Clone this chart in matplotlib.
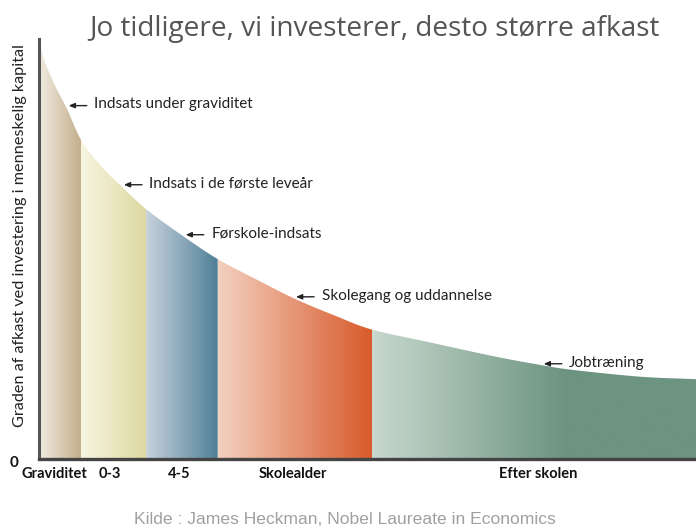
import numpy as np
import matplotlib
matplotlib.use("Agg")
import matplotlib.pyplot as plt
from matplotlib.colors import LinearSegmentedColormap
from matplotlib.patches import Polygon

# ---- data (arbitrary units 0-100) ----
curve_x = [0.3, 0.9, 2.4, 4.3, 6.4, 9.3, 12.3, 16.3, 21.9, 27.2, 32.9, 39.0, 45.1,
           50.7, 59.1, 69.1, 76.3, 81.3, 91.5, 100.0]
curve_y = [97.6, 94.5, 89.0, 83.2, 76.0, 70.0, 65.3, 59.5, 53.1, 47.6, 42.9, 38.1, 34.1,
           30.8, 27.9, 24.5, 22.4, 21.2, 19.6, 19.0]

stage_labels = ["Graviditet", "0-3", "4-5", "Skolealder", "Efter skolen"]
stage_bounds = [0.3, 6.4, 16.3, 27.2, 50.7, 100.0]
stage_label_x = [2.4, 10.8, 21.4, 38.6, 76.0]
stage_colors = [
    [(0.0, "#efe9dc"), (1.0, "#c2ad8a")],
    [(0.0, "#f7f5e1"), (1.0, "#ddd8a0")],
    [(0.0, "#c8d2de"), (1.0, "#4f8096")],
    [(0.0, "#f3d0c0"), (1.0, "#d85a2a")],
    [(0.0, "#c8d8ce"), (0.6, "#6c9480"), (1.0, "#6c9480")],
]

annotations = ["Indsats under graviditet", "Indsats i de første leveår", "Førskole-indsats",
               "Skolegang og uddannelse", "Jobtræning"]
annot_x = [4.1, 12.5, 21.9, 38.7, 76.4]

title = "Jo tidligere, vi investerer, desto større afkast"
ylabel = "Graden af afkast ved investering i menneskelig kapital"
source = "Kilde : James Heckman, Nobel Laureate in Economics"


def smooth_path(xs, ys, n=24):
    """Catmull-Rom rendering through the read points (knots preserved)."""
    P = np.column_stack([xs, ys]).astype(float)
    P = np.vstack([2 * P[0] - P[1], P, 2 * P[-1] - P[-2]])
    out = []
    for i in range(1, len(P) - 2):
        p0, p1, p2, p3 = P[i - 1], P[i], P[i + 1], P[i + 2]
        t = np.linspace(0, 1, n, endpoint=False)[:, None]
        seg = 0.5 * ((2 * p1) + (-p0 + p2) * t + (2 * p0 - 5 * p1 + 4 * p2 - p3) * t ** 2
                     + (-p0 + 3 * p1 - 3 * p2 + p3) * t ** 3)
        out.append(seg)
    out.append(P[-2][None, :])
    return np.vstack(out)


fig = plt.figure(figsize=(6.96, 5.30), dpi=100)
ax = fig.add_axes([39/696, 71/530, 657/696, 420/530])

dense = smooth_path(curve_x, curve_y)
dx, dy = dense[:, 0], dense[:, 1]

for i in range(len(stage_labels)):
    x0, x1 = stage_bounds[i], stage_bounds[i + 1]
    mask = (dx >= x0 - 1e-9) & (dx <= x1 + 1e-9)
    verts = [(x0, 0)] + list(zip(dx[mask], dy[mask])) + [(x1, 0)]
    poly = Polygon(verts, closed=True, facecolor="none", edgecolor="none")
    ax.add_patch(poly)
    cmap = LinearSegmentedColormap.from_list(f"s{i}", stage_colors[i])
    grad = np.linspace(0, 1, 256).reshape(1, -1)
    im = ax.imshow(grad, cmap=cmap, aspect="auto", extent=[x0, x1, 0, 100],
                   origin="lower", interpolation="bilinear", zorder=1)
    im.set_clip_path(poly)

ax.set_xlim(0, 100)
ax.set_ylim(0, 100)

for s in ["top", "right"]:
    ax.spines[s].set_visible(False)
ax.spines["left"].set_color("#555555")
ax.spines["left"].set_linewidth(2.2)
ax.spines["bottom"].set_color("#444444")
ax.spines["bottom"].set_linewidth(2.4)
ax.set_xticks([])
ax.set_yticks([])

lblfont = ["Lato", "DejaVu Sans"]

for txt, xa in zip(annotations, annot_x):
    ya = np.interp(xa, dx, dy)
    ax.annotate("", xy=(xa, ya + 0.3), xytext=(xa + 3.6, ya + 0.3),
                arrowprops=dict(arrowstyle="-|>,head_length=0.35,head_width=0.15",
                                color="#222222", lw=1.0), zorder=5)
    ax.text(xa + 4.3, ya + 0.6, txt, fontsize=11, family=lblfont,
            color="#222222", va="center", ha="left", zorder=5)

for lab, xc in zip(stage_labels, stage_label_x):
    ax.text(xc, -3.6, lab, fontsize=10.5, family=lblfont, fontweight="bold",
            color="#111111", ha="center", va="center", clip_on=False)

ax.text(-3.8, -0.9, "0", fontsize=11, family=lblfont, fontweight="bold",
        color="#111111", ha="center", va="center", clip_on=False)

fig.text(20/696, 1 - 236/530, ylabel, rotation=90, fontsize=11.7, family=lblfont,
         color="#222222", ha="center", va="center")

fig.text(374/696, 1 - 29/530, title, fontsize=20.2, family=["Open Sans", "DejaVu Sans"],
         color="#555555", ha="center", va="center")

fig.text(345/696, 1 - 519/530, source, fontsize=12.6, family=["Liberation Sans", "DejaVu Sans"],
         color="#a0a0a0", ha="center", va="center")

fig.savefig("out.png", dpi=100)
